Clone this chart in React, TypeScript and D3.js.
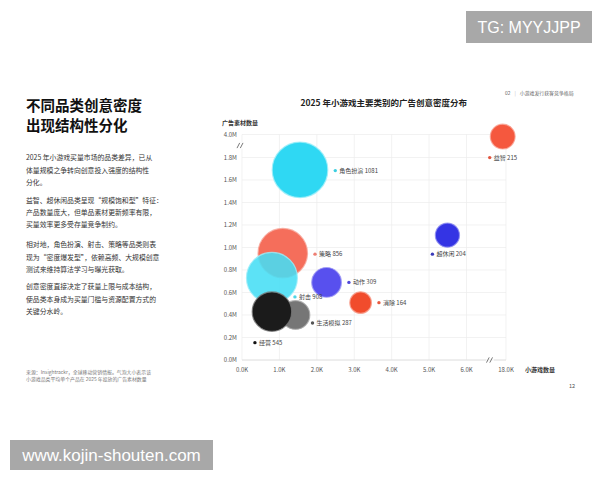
import React from 'react';
import * as d3 from 'd3';

// ---------- data ----------
const categories = ['益智', '角色扮演', '策略', '射击', '动作', '超休闲', '消除', '生活模拟', '经营'];
const gameCounts = [17000, 1550, 1090, 800, 2260, 5490, 3170, 1430, 800];
const adCreatives = [3800000, 1690000, 950000, 730000, 690000, 1110000, 510000, 400000, 430000];
const avgCreativesPerGame = [215, 1081, 856, 908, 309, 204, 164, 287, 545];
const xTicks = [0, 1000, 2000, 3000, 4000, 5000, 6000, 18000];
const yTicks = [0, 200000, 400000, 600000, 800000, 1000000, 1200000, 1400000, 1600000, 1800000, 4000000];

const titleLines = ['不同品类创意密度', '出现结构性分化'];
const paragraphs = [
  ['2025 年小游戏买量市场的品类差异，已从', '体量规模之争转向创意投入强度的结构性', '分化。'],
  ['益智、超休闲品类呈现“规模饱和型”特征：', '产品数量庞大，但单品素材更新频率有限，', '买量效率更多受存量竞争制约。'],
  ['相对地，角色扮演、射击、策略等品类则表', '现为“密度爆发型”，依赖高频、大规模创意', '测试来维持算法学习与曝光获取。'],
  ['创意密度直接决定了获量上限与成本结构，', '使品类本身成为买量门槛与资源配置方式的', '关键分水岭。'],
];
const sourceLines = [
  '来源：Insightrackr，全球移动营销情报。气泡大小表示该',
  '小游戏品类平均单个产品在 2025 年投放的广告素材数量',
];

// ---------- styles ----------
const colors: Record<string, { fill: string; stroke: string; opacity: number; dot: string }> = {
  益智: { fill: '#F5583E', stroke: '#F9A393', opacity: 1, dot: '#E2553F' },
  角色扮演: { fill: '#2FD8F3', stroke: '#9BEDF9', opacity: 1, dot: '#3CCFE0' },
  策略: { fill: '#F46652', stroke: '#F8A598', opacity: 0.95, dot: '#EE7E72' },
  射击: { fill: '#45DEF5', stroke: '#9DEEF9', opacity: 0.88, dot: '#4FD6E6' },
  动作: { fill: '#5850EE', stroke: '#A19CF5', opacity: 1, dot: '#5048D8' },
  超休闲: { fill: '#3434E4', stroke: '#8E8EF0', opacity: 1, dot: '#3A3AB8' },
  消除: { fill: '#F14C2C', stroke: '#F7A090', opacity: 1, dot: '#E85A40' },
  生活模拟: { fill: '#6F6F6F', stroke: '#AAAAAA', opacity: 0.95, dot: '#555555' },
  经营: { fill: '#1B1B1B', stroke: '#777777', opacity: 1, dot: '#111111' },
};
// label dot offset from bubble centre (dx, dy) ; 'r' means place to the right of bubble
const labelPlace: Record<string, { dx: number | 'r'; dy: number }> = {
  益智: { dx: -13, dy: 21 },
  角色扮演: { dx: 'r', dy: 0.7 },
  策略: { dx: 'r', dy: 1 },
  射击: { dx: 23, dy: 19 },
  动作: { dx: 'r', dy: 0 },
  超休闲: { dx: -15, dy: 19 },
  消除: { dx: 'r', dy: 0 },
  生活模拟: { dx: 17, dy: 8 },
  经营: { dx: -17, dy: 31 },
};

const CJK = '"Noto Sans CJK SC", "Noto Sans", sans-serif';

const fmtX = (v: number) => (v / 1000).toFixed(1) + 'K';
const fmtY = (v: number) => (v / 1000000).toFixed(1) + 'M';

export default function App() {
  const x = d3.scaleLinear().domain([0, 6000, 18000]).range([242, 466.5, 506]);
  const y = d3.scaleLinear().domain([0, 1800000, 4000000]).range([360, 157.5, 134.5]);
  const r = d3.scaleSqrt().domain([0, 1081]).range([0, 27.8]);

  const left = x(0);
  const right = x(18000);
  const top = y(4000000);
  const bottom = y(0);
  const xBreak = 490;
  const yBreak = 145.5;

  const pts = categories.map((c, i) => ({
    c,
    cx: x(gameCounts[i]),
    cy: y(adCreatives[i]),
    rad: r(avgCreativesPerGame[i]),
    v: avgCreativesPerGame[i],
  }));

  const slash = (cx: number, cy: number, key: string) => (
    <g key={key} stroke="#555" strokeWidth={0.8}>
      <line x1={cx - 3.5} y1={cy + 2.6} x2={cx - 0.8} y2={cy - 2.6} />
      <line x1={cx - 0.2} y1={cy + 2.6} x2={cx + 2.5} y2={cy - 2.6} />
    </g>
  );

  return (
    <svg
      width={600}
      height={480}
      style={{ position: 'absolute', left: 0, top: 0, background: '#fff' }}
      fontFamily={CJK}
    >
      <rect width={600} height={480} fill="#fff" />

      {/* left panel */}
      {titleLines.map((t, i) => (
        <text key={t} x={26} y={110.5 + i * 20} fontSize={14.5} fontWeight={700} fill="#111">
          {t}
        </text>
      ))}
      {paragraphs.map((p, pi) =>
        p.map((line, li) => (
          <text
            key={pi + '-' + li}
            x={26}
            y={[160.3, 202.8, 247.3, 289.3][pi] + li * 12.2}
            fontSize={6.85}
            fill="#333"
          >
            {line}
          </text>
        ))
      )}
      {sourceLines.map((s, i) => (
        <text key={s} x={26} y={373.6 + i * 7} fontSize={4.9} fill="#777">
          {s}
        </text>
      ))}

      {/* header */}
      <text x={505} y={94.8} fontSize={4.9} fill="#666">
        02
        <tspan dx={4} fill="#bbb">|</tspan>
        <tspan dx={4}>小游戏发行获客竞争格局</tspan>
      </text>
      <text x={572} y={388} fontSize={5.6} fill="#555" textAnchor="middle">12</text>

      {/* chart title */}
      <text x={300.5} y={105.8} fontSize={8.5} fontWeight={700} fill="#222">
        2025 年小游戏主要类别的广告创意密度分布
      </text>
      <text x={222} y={124.5} fontSize={6} fontWeight={700} fill="#333">广告素材数量</text>
      <text x={525} y={372.2} fontSize={6} fontWeight={700} fill="#333">小游戏数量</text>

      {/* grid */}
      <g stroke="#ECECEC" strokeWidth={0.7}>
        {yTicks.map((t) => (
          <line key={'gy' + t} x1={left} x2={right} y1={y(t)} y2={y(t)} />
        ))}
        {xTicks.map((t) => (
          <line key={'gx' + t} x1={x(t)} x2={x(t)} y1={top} y2={bottom} />
        ))}
      </g>
      {/* axis lines with breaks */}
      <g stroke="#DDDDDD" strokeWidth={0.8}>
        <line x1={left} x2={xBreak - 4} y1={bottom} y2={bottom} />
        <line x1={xBreak + 4} x2={right} y1={bottom} y2={bottom} />
      </g>
      <rect x={left - 1} y={yBreak - 3} width={2} height={6} fill="#fff" />
      {slash(xBreak, bottom, 'xb')}
      {slash(240.5, yBreak, 'yb')}

      {/* tick labels */}
      {xTicks.map((t) => (
        <text key={'xt' + t} x={x(t)} y={372.2} fontSize={6} fill="#555" textAnchor="middle">
          {fmtX(t)}
        </text>
      ))}
      {yTicks.map((t) => (
        <text key={'yt' + t} x={237} y={y(t) + 2.1} fontSize={6} fill="#555" textAnchor="end">
          {fmtY(t)}
        </text>
      ))}

      {/* bubbles */}
      {pts.map((p) => (
        <circle
          key={'b' + p.c}
          cx={p.cx}
          cy={p.cy}
          r={p.rad}
          fill={colors[p.c].fill}
          fillOpacity={colors[p.c].opacity}
          stroke={colors[p.c].stroke}
          strokeWidth={1.2}
          strokeOpacity={0.8}
        />
      ))}

      {/* labels */}
      {pts.map((p) => {
        const lp = labelPlace[p.c];
        const dx = lp.dx === 'r' ? p.rad + 7.5 : lp.dx;
        const lx = p.cx + dx;
        const ly = p.cy + lp.dy;
        return (
          <g key={'l' + p.c}>
            <circle cx={lx} cy={ly} r={1.7} fill={colors[p.c].dot} />
            <text x={lx + 4} y={ly + 2.1} fontSize={6} fill="#444">
              {p.c} {p.v}
            </text>
          </g>
        );
      })}

      {/* watermarks */}
      <rect x={466} y={11} width={126} height={32} fill="#A8A8A8" />
      <text x={529} y={33} fontSize={16} fill="#fff" textAnchor="middle" fontFamily="Liberation Sans, Arial, sans-serif">
        TG: MYYJJPP
      </text>
      <rect x={10} y={440} width={203} height={30} fill="#A8A8A8" />
      <text x={111.5} y={461} fontSize={17} fill="#fff" textAnchor="middle" fontFamily="Liberation Sans, Arial, sans-serif">
        www.kojin-shouten.com
      </text>
    </svg>
  );
}
